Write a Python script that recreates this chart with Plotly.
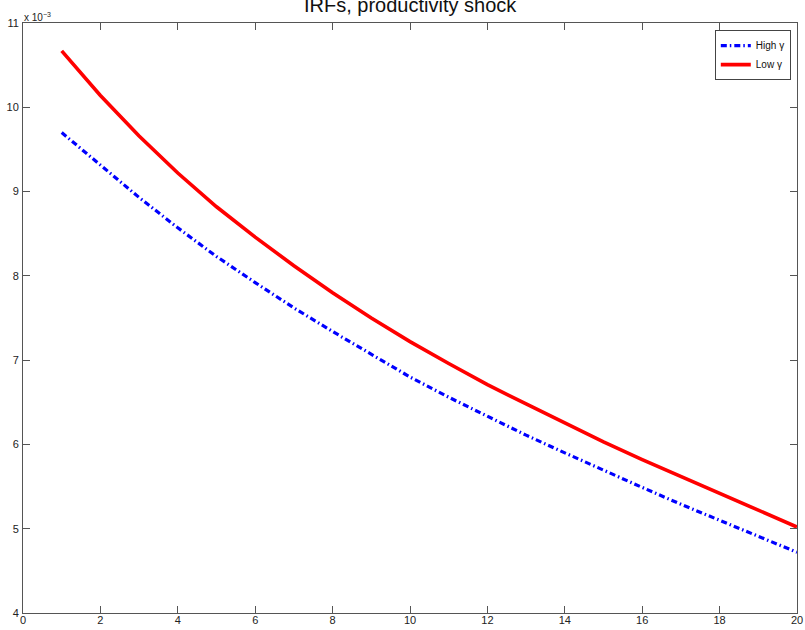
import plotly.graph_objects as go

periods = list(range(1, 21))
high_gamma = [9.70, 9.31, 8.93, 8.57, 8.23, 7.92, 7.62, 7.34, 7.07, 6.80,
              6.56, 6.33, 6.11, 5.90, 5.69, 5.49, 5.29, 5.10, 4.91, 4.72]
low_gamma = [10.67, 10.14, 9.66, 9.22, 8.82, 8.46, 8.12, 7.80, 7.50, 7.22,
             6.96, 6.71, 6.48, 6.25, 6.03, 5.82, 5.62, 5.42, 5.22, 5.02]
x_ticks = list(range(0, 21, 2))
y_ticks = list(range(4, 12))

FONT = "Liberation Sans, Arial, Helvetica, sans-serif"

fig = go.Figure()
fig.add_trace(go.Scatter(x=periods, y=high_gamma, mode="lines", name="High \u03b3",
                         line=dict(color="#0000ff", width=3.2, dash="6px,3px,1.5px,3px")))
fig.add_trace(go.Scatter(x=periods, y=low_gamma, mode="lines", name="Low \u03b3",
                         line=dict(color="#ff0000", width=3.6)))

axis_common = dict(showgrid=False, zeroline=False, showline=True, mirror="ticks",
                   linecolor="#555555", linewidth=1, ticks="inside", ticklen=7,
                   tickcolor="#555555", tickwidth=1, automargin=False,
                   tickfont=dict(family=FONT, size=11, color="#222222"))

fig.update_xaxes(range=[0, 20], tickvals=x_ticks, ticktext=[str(v) for v in x_ticks],
                 ticklabelstandoff=-3, **axis_common)
fig.update_yaxes(range=[4, 11], tickvals=y_ticks, ticktext=[str(v) for v in y_ticks],
                 ticklabelstandoff=1, **axis_common)

fig.add_annotation(text="IRFs, productivity shock", xref="paper", yref="paper",
                   x=0.5, y=1, yshift=5, xanchor="center", yanchor="bottom",
                   showarrow=False, font=dict(family=FONT, size=20, color="#111111"))
fig.add_annotation(text="x 10<sup>\u22123</sup>", xref="paper", yref="paper",
                   x=0, y=1, xshift=-1, yshift=-2, xanchor="left", yanchor="bottom",
                   showarrow=False, font=dict(family=FONT, size=10, color="#222222"))

fig.update_layout(
    width=805, height=630,
    margin=dict(l=23, r=8, t=23, b=17),
    paper_bgcolor="white", plot_bgcolor="white",
    showlegend=True,
    legend=dict(x=0.992, y=0.988, xanchor="right", yanchor="top",
                bgcolor="white", bordercolor="#444444", borderwidth=1,
                font=dict(family=FONT, size=10, color="#111111"),
                tracegroupgap=0, itemwidth=30),
)

fig.write_html("out.html", config={"displayModeBar": False},
               post_script="document.body.style.margin='0';document.body.style.overflow='hidden';")
